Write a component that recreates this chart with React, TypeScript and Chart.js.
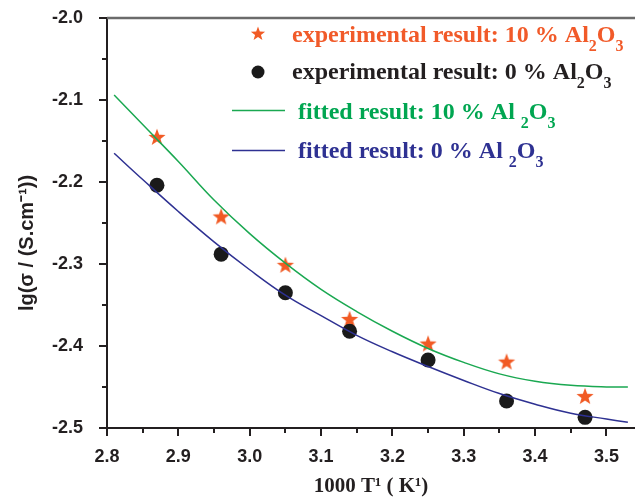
import React, { useEffect, useRef } from 'react';
import { Chart, registerables } from 'chart.js';

Chart.register(...registerables);

// Experimental data
const xExp = [2.87, 2.96, 3.05, 3.14, 3.25, 3.36, 3.47];
const yExp10 = [-2.145, -2.242, -2.301, -2.367, -2.397, -2.419, -2.461];
const yExp0 = [-2.204, -2.288, -2.335, -2.382, -2.417, -2.467, -2.487];

// Fitted curves
const xFit = [2.81, 2.85, 2.9, 2.95, 3.0, 3.05, 3.1, 3.15, 3.2, 3.25, 3.3, 3.35, 3.4, 3.45, 3.5, 3.53];
const yFit10 = [-2.094, -2.13, -2.175, -2.222, -2.263, -2.299, -2.331, -2.358, -2.382, -2.403, -2.42, -2.434, -2.443, -2.448, -2.45, -2.45];
const yFit0 = [-2.165, -2.197, -2.236, -2.273, -2.307, -2.338, -2.363, -2.387, -2.407, -2.425, -2.442, -2.458, -2.471, -2.482, -2.489, -2.493];

// Ticks
const xMajorTicks = [2.8, 2.9, 3.0, 3.1, 3.2, 3.3, 3.4, 3.5];
const xMinorTicks = [2.85, 2.95, 3.05, 3.15, 3.25, 3.35, 3.45];
const yMajorTicks = [-2.5, -2.4, -2.3, -2.2, -2.1, -2.0];
const yMinorTicks = [-2.45, -2.35, -2.25, -2.15, -2.05];

const xTitle = '1000 T¹ ( K¹)';
const yTitle = 'lg(σ / (S.cm⁻¹))';

const legendLabels = [
  { parts: [{ t: 'experimental result: 10 % Al' }, { t: '2', sub: true }, { t: 'O' }, { t: '3', sub: true }], color: '#f15a29' },
  { parts: [{ t: 'experimental result: 0 % Al' }, { t: '2', sub: true }, { t: 'O' }, { t: '3', sub: true }], color: '#231f20' },
  { parts: [{ t: 'fitted result: 10 % Al ' }, { t: '2', sub: true }, { t: 'O' }, { t: '3', sub: true }], color: '#00a651' },
  { parts: [{ t: 'fitted result: 0 % Al ' }, { t: '2', sub: true }, { t: 'O' }, { t: '3', sub: true }], color: '#2e3192' },
];

const STAR_COLOR = '#f15a24';
const DOT_COLOR = '#1a1a1a';
const GREEN = '#1aa851';
const BLUE = '#2e3192';
const AXIS = '#231f20';

function starPath(ctx: CanvasRenderingContext2D, cx: number, cy: number, ro: number, ri: number) {
  ctx.beginPath();
  for (let i = 0; i < 10; i++) {
    const r = i % 2 === 0 ? ro : ri;
    const a = -Math.PI / 2 + (i * Math.PI) / 5;
    const px = cx + r * Math.cos(a);
    const py = cy + r * Math.sin(a);
    if (i === 0) ctx.moveTo(px, py);
    else ctx.lineTo(px, py);
  }
  ctx.closePath();
}

function makeStar(size: number, ro: number, ri: number) {
  const c = document.createElement('canvas');
  c.width = size;
  c.height = size;
  const ctx = c.getContext('2d')!;
  ctx.fillStyle = STAR_COLOR;
  starPath(ctx, size / 2, size / 2 + 0.8, ro, ri);
  ctx.fill();
  return c;
}

function drawRich(ctx: CanvasRenderingContext2D, parts: { t: string; sub?: boolean }[], x: number, y: number, color: string) {
  let cx = x;
  ctx.fillStyle = color;
  ctx.textBaseline = 'alphabetic';
  ctx.textAlign = 'left';
  for (const p of parts) {
    ctx.font = p.sub ? 'bold 16px "Liberation Serif", "Times New Roman", serif' : 'bold 24px "Liberation Serif", "Times New Roman", serif';
    const dy = p.sub ? 9 : 0;
    ctx.fillText(p.t, cx, y + dy);
    cx += ctx.measureText(p.t).width;
  }
}

const decorPlugin = {
  id: 'decor',
  afterDraw(chart: any) {
    const ctx: CanvasRenderingContext2D = chart.ctx;
    const { left, right, top, bottom } = chart.chartArea;
    const xs = chart.scales.x;
    const ys = chart.scales.y;
    ctx.save();
    // top border (gray)
    ctx.strokeStyle = '#6b6b6b';
    ctx.lineWidth = 2.5;
    ctx.beginPath();
    ctx.moveTo(left, top);
    ctx.lineTo(right, top);
    ctx.stroke();
    // minor ticks
    ctx.strokeStyle = AXIS;
    ctx.lineWidth = 2;
    ctx.beginPath();
    for (const v of xMinorTicks) {
      const px = Math.round(xs.getPixelForValue(v));
      ctx.moveTo(px, bottom);
      ctx.lineTo(px, bottom + 5);
    }
    for (const v of yMinorTicks) {
      const py = Math.round(ys.getPixelForValue(v));
      ctx.moveTo(left, py);
      ctx.lineTo(left - 5, py);
    }
    ctx.stroke();

    // y title
    ctx.save();
    ctx.translate(27, 243);
    ctx.rotate(-Math.PI / 2);
    ctx.fillStyle = AXIS;
    ctx.font = 'bold 20px "Liberation Sans", Arial, sans-serif';
    ctx.textAlign = 'center';
    ctx.textBaseline = 'middle';
    ctx.fillText(yTitle, 0, 0);
    ctx.restore();

    // legend
    const mx = 258;
    const tx1 = 292;
    const tx2 = 298;
    ctx.fillStyle = STAR_COLOR;
    starPath(ctx, mx, 34, 7.5, 3.1);
    ctx.fill();
    ctx.fillStyle = DOT_COLOR;
    ctx.beginPath();
    ctx.arc(mx, 72, 6.5, 0, Math.PI * 2);
    ctx.fill();
    ctx.lineWidth = 1.5;
    ctx.strokeStyle = GREEN;
    ctx.beginPath();
    ctx.moveTo(232, 110.5);
    ctx.lineTo(285, 110.5);
    ctx.stroke();
    ctx.strokeStyle = BLUE;
    ctx.beginPath();
    ctx.moveTo(232, 150.5);
    ctx.lineTo(285, 150.5);
    ctx.stroke();

    drawRich(ctx, legendLabels[0].parts, tx1, 42, legendLabels[0].color);
    drawRich(ctx, legendLabels[1].parts, tx1, 79, legendLabels[1].color);
    drawRich(ctx, legendLabels[2].parts, tx2, 119, legendLabels[2].color);
    drawRich(ctx, legendLabels[3].parts, tx2, 158, legendLabels[3].color);
    ctx.restore();
  },
};

export default function App() {
  const ref = useRef<HTMLCanvasElement | null>(null);

  useEffect(() => {
    if (!ref.current) return;
    const star = makeStar(20, 9, 3.7);
    const tickFont = { family: '"Liberation Sans", Arial, sans-serif', weight: 'bold' as const, size: 18 };
    const chart = new Chart(ref.current, {
      type: 'scatter',
      data: {
        datasets: [
          {
            type: 'line',
            label: 'fitted result: 10 % Al2O3',
            data: xFit.map((x, i) => ({ x, y: yFit10[i] })),
            borderColor: GREEN,
            borderWidth: 1.5,
            pointRadius: 0,
            tension: 0.4,
            fill: false,
          } as any,
          {
            type: 'line',
            label: 'fitted result: 0 % Al2O3',
            data: xFit.map((x, i) => ({ x, y: yFit0[i] })),
            borderColor: BLUE,
            borderWidth: 1.5,
            pointRadius: 0,
            tension: 0.4,
            fill: false,
          } as any,
          {
            label: 'experimental result: 0 % Al2O3',
            data: xExp.map((x, i) => ({ x, y: yExp0[i] })),
            pointStyle: 'circle',
            pointRadius: 7.5,
            backgroundColor: DOT_COLOR,
            borderColor: DOT_COLOR,
            borderWidth: 0,
          },
          {
            label: 'experimental result: 10 % Al2O3',
            data: xExp.map((x, i) => ({ x, y: yExp10[i] })),
            pointStyle: star as any,
            pointRadius: 9,
          },
        ],
      },
      options: {
        animation: false,
        responsive: false,
        maintainAspectRatio: false,
        layout: { autoPadding: false, padding: { top: 18, right: 0, left: 0, bottom: 0 } },
        plugins: {
          legend: { display: false },
          tooltip: { enabled: false },
        },
        scales: {
          x: {
            type: 'linear',
            min: 2.8,
            max: 3.54,
            afterBuildTicks: (s: any) => {
              s.ticks = xMajorTicks.map((v) => ({ value: v }));
            },
            afterFit: (s: any) => {
              s.height = 71;
              s.paddingRight = 0;
              s.paddingLeft = 0;
            },
            ticks: {
              font: tickFont,
              color: AXIS,
              padding: 10,
              maxRotation: 0,
              autoSkip: false,
              callback: (v: any) => Number(v).toFixed(1),
            },
            grid: {
              drawOnChartArea: false,
              drawTicks: true,
              tickLength: 8,
              color: AXIS,
              lineWidth: 2,
            },
            border: { display: true, color: AXIS, width: 2 },
            title: {
              display: true,
              text: xTitle,
              color: AXIS,
              font: { family: '"Liberation Serif", "Times New Roman", serif', weight: 'bold', size: 21 },
              padding: { top: 0, bottom: 0 },
            },
          },
          y: {
            type: 'linear',
            min: -2.5,
            max: -2.0,
            afterBuildTicks: (s: any) => {
              s.ticks = yMajorTicks.map((v) => ({ value: v }));
            },
            afterFit: (s: any) => {
              s.width = 107;
              s.paddingTop = 0;
              s.paddingBottom = 0;
            },
            ticks: {
              font: tickFont,
              color: AXIS,
              padding: 16,
              autoSkip: false,
              callback: (v: any) => Number(v).toFixed(1),
            },
            grid: {
              drawOnChartArea: false,
              drawTicks: true,
              tickLength: 8,
              color: AXIS,
              lineWidth: 2,
            },
            border: { display: true, color: AXIS, width: 2 },
          },
        },
      },
      plugins: [decorPlugin],
    });
    return () => chart.destroy();
  }, []);

  return (
    <div style={{ position: 'fixed', left: 0, top: 0, width: 635, height: 499, background: '#fff' }}>
      <canvas ref={ref} width={635} height={499} style={{ width: 635, height: 499, display: 'block' }} />
    </div>
  );
}
